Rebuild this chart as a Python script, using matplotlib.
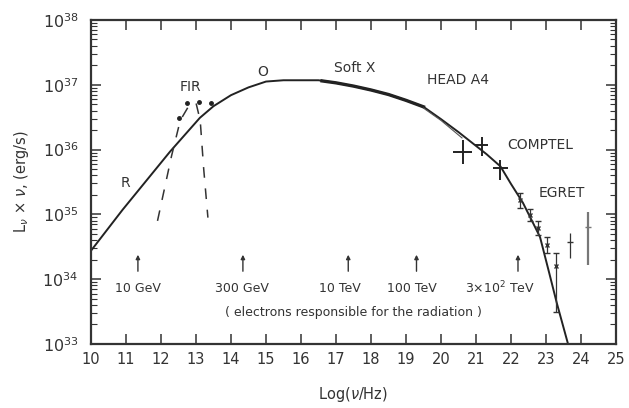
import numpy as np
import matplotlib
matplotlib.use('Agg')
import matplotlib.pyplot as plt
from matplotlib.ticker import FixedLocator, LogLocator, NullFormatter

# main synchrotron + IC curve, log10(nu) vs log10(L nu)
curve_x = [10, 10.9, 12.26, 13.11, 13.5, 14.0, 14.5, 15.0, 15.5, 16.0, 16.5,
           17.0, 17.5, 18.0, 18.5, 19.0, 19.5, 20.0, 20.5, 20.9, 21.3, 21.7,
           22.0, 22.34, 22.6, 22.83, 23.1, 23.31, 23.63]
curve_y = [34.44, 35.07, 35.97, 36.49, 36.67, 36.84, 36.96, 37.05, 37.07,
           37.07, 37.07, 37.03, 36.98, 36.92, 36.85, 36.76, 36.66, 36.47,
           36.27, 36.1, 35.93, 35.74, 35.47, 35.18, 34.9, 34.65, 34.08,
           33.63, 33.0]

# HEAD A4 lower branch
head_x = [19.5, 20.0, 20.6]
head_y = [36.64, 36.45, 36.18]

# soft X data band (thicker)
softx_x = [16.6, 17.0, 17.5, 18.0, 18.5, 19.0, 19.5]
softx_y = [37.06, 37.03, 36.98, 36.92, 36.85, 36.76, 36.66]

# FIR dust bump (dashed)
fir_x = [11.9, 12.1, 12.3, 12.55, 12.8, 13.0, 13.12, 13.22, 13.34]
fir_y = [34.9, 35.4, 35.9, 36.45, 36.68, 36.72, 36.45, 35.7, 34.95]
fir_pts_x = [12.51, 12.74, 13.09, 13.43]
fir_pts_y = [36.49, 36.72, 36.74, 36.72]

# COMPTEL
comp_x = [20.63, 21.17, 21.68]
comp_y = [35.96, 36.07, 35.72]
comp_xlo = [20.35, 20.97, 21.49]
comp_xhi = [20.9, 21.34, 21.91]
comp_ylo = [35.77, 35.9, 35.53]
comp_yhi = [36.15, 36.2, 35.84]

# EGRET
egr_x = [22.26, 22.54, 22.78, 23.03, 23.3]
egr_y = [35.22, 34.99, 34.79, 34.52, 34.2]
egr_ylo = [35.1, 34.9, 34.68, 34.4, 33.5]
egr_yhi = [35.33, 35.08, 34.9, 34.65, 34.4]

# TeV points
tev_x = [23.7, 24.2]
tev_y = [34.57, 34.81]
tev_ylo = [34.33, 34.22]
tev_yhi = [34.71, 35.04]

# electron energy markers
arr_x = [11.34, 14.34, 17.35, 19.3, 22.2]
arr_lab_x = [11.35, 14.3, 17.1, 19.17, 21.7]
arr_labels = ['10 GeV', '300 GeV', '10 TeV', '100 TeV', r'3$\times$10$^2$ TeV']

xticks = list(range(10, 26))

col = '#333333'
plt.rcParams['font.family'] = ['DejaVu Sans']

fig = plt.figure(figsize=(6.29, 4.08), dpi=100)
ax = fig.add_axes([0.1447, 0.1569, 0.8346, 0.7941])

p = lambda a: 10.0 ** np.asarray(a)

ax.plot(curve_x, p(curve_y), color='#222222', lw=1.4)
ax.plot(softx_x, p(softx_y), color='#222222', lw=2.4)
ax.plot(head_x, p(head_y), color='#555555', lw=0.8)
ax.plot(fir_x, p(fir_y), color='#333333', lw=1.1, dashes=(7, 7))
ax.plot(fir_pts_x, p(fir_pts_y), 'o', color='#222222', ms=2.5)

y = p(comp_y)
ax.errorbar(comp_x, y,
            xerr=[np.array(comp_x) - comp_xlo, np.array(comp_xhi) - comp_x],
            yerr=[y - p(comp_ylo), p(comp_yhi) - y],
            fmt='none', ecolor='#222222', elinewidth=1.4, capsize=0)

y = p(egr_y)
ax.errorbar(egr_x, y, yerr=[y - p(egr_ylo), p(egr_yhi) - y],
            fmt='x', ms=3, color='#333333', elinewidth=0.9, capsize=2)

y = p(tev_y)
ax.errorbar(tev_x[:1], y[:1], yerr=[y[:1] - p(tev_ylo[:1]), p(tev_yhi[:1]) - y[:1]],
            fmt='_', ms=4, color='#333333', elinewidth=0.9, capsize=0)
ax.errorbar(tev_x[1:], y[1:], yerr=[y[1:] - p(tev_ylo[1:]), p(tev_yhi[1:]) - y[1:]],
            fmt='_', ms=4, color='#777777', elinewidth=1.6, capsize=0)

for xa in arr_x:
    ax.annotate('', xy=(xa, p(34.42)), xytext=(xa, p(34.08)),
                arrowprops=dict(arrowstyle='-|>', color=col, lw=1.0,
                                mutation_scale=6))
for xl, lab in zip(arr_lab_x, arr_labels):
    ax.text(xl, p(33.86), lab, ha='center', va='center', fontsize=9, color=col)
ax.text(17.5, p(33.48), '( electrons responsible for the radiation )',
        ha='center', va='center', fontsize=9, color=col)

ax.text(10.97, p(35.48), 'R', fontsize=10, color=col, ha='center', va='center')
ax.text(12.83, p(36.97), 'FIR', fontsize=10, color=col, ha='center', va='center')
ax.text(14.91, p(37.2), 'O', fontsize=10, color=col, ha='center', va='center')
ax.text(17.54, p(37.26), 'Soft X', fontsize=10, color=col, ha='center', va='center')
ax.text(20.49, p(37.07), 'HEAD A4', fontsize=10, color=col, ha='center', va='center')
ax.text(22.83, p(36.07), 'COMPTEL', fontsize=10, color=col, ha='center', va='center')
ax.text(23.46, p(35.33), 'EGRET', fontsize=10, color=col, ha='center', va='center')

ax.set_xlim(10, 25)
ax.set_yscale('log')
ax.set_ylim(1e33, 1e38)
ax.xaxis.set_major_locator(FixedLocator(xticks))
ax.set_xticklabels([str(t) for t in xticks])
ax.yaxis.set_major_locator(LogLocator(base=10, numticks=10))
ax.yaxis.set_minor_locator(LogLocator(base=10, subs=np.arange(2, 10), numticks=20))
ax.yaxis.set_minor_formatter(NullFormatter())
ax.tick_params(which='both', direction='in', top=True, right=True,
               colors=col, pad=6)
ax.tick_params(axis='x', labelsize=10.5)
ax.tick_params(axis='y', labelsize=11.5, pad=9)
ax.tick_params(which='major', length=7, width=1.1)
ax.tick_params(which='minor', length=4, width=0.8)
for s in ax.spines.values():
    s.set_linewidth(1.6)
    s.set_color('#333333')

ax.set_xlabel(r'Log($\nu$/Hz)', fontsize=10.5, color=col, labelpad=13)
ax.set_ylabel(r'L$_\nu$ $\times$ $\nu$, (erg/s)', fontsize=10.5, color=col, labelpad=8)

plt.savefig('out.png', dpi=100)
